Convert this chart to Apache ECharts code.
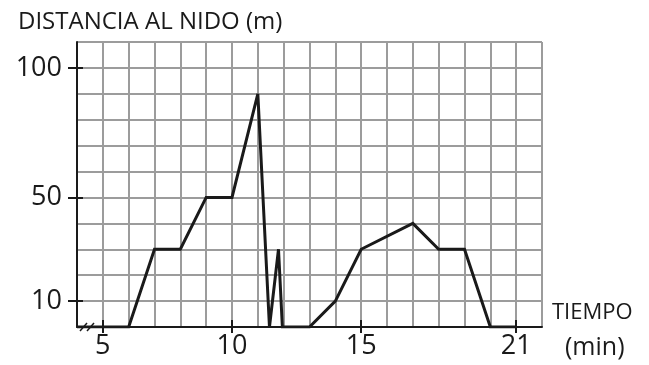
<!DOCTYPE html>
<html>
<head>
<meta charset="utf-8">
<script src="https://cdn.jsdelivr.net/npm/echarts@6/dist/echarts.min.js"></script>
<style>
html,body{margin:0;padding:0;background:#fff;}
#chart{width:649px;height:365px;}
</style>
</head>
<body>
<div id="chart"></div>
<script>
// tiempo (min) y distancia al nido (m)
var tiempo    = [4, 6, 7, 8, 9, 10, 11, 11.45, 11.8, 11.95, 13, 14, 15, 17, 18, 19, 20, 21];
var distancia = [0, 0, 30, 30, 50, 50, 90, 0, 30, 0, 0, 10, 30, 40, 30, 30, 0, 0];
var xTickLabels = [5, 10, 15, 21];
var yTickLabels = [10, 50, 100];

var font = 'Open Sans';
var ink = '#1a1a1a';

var points = tiempo.map(function (t, i) { return [t, distancia[i]]; });

function tickAxis(base, values, inside, len) {
    return Object.assign({
        type: 'value',
        axisLine: {show: false},
        splitLine: {show: false},
        axisLabel: {show: false},
        axisTick: {show: true, inside: inside, length: len, customValues: values,
                   lineStyle: {color: ink, width: 2}}
    }, base);
}

var xBase = {min: 4, max: 22, interval: 1, position: 'bottom'};
var yBase = {min: 0, max: 110, interval: 10, position: 'left'};

var chart = echarts.init(document.getElementById('chart'));
var option = {
    animation: false,
    title: [
        {text: 'DISTANCIA AL NIDO (m)', left: 13, top: 5,
         textStyle: {fontFamily: font, fontSize: 24, fontWeight: 'normal', color: ink}},
        {text: 'TIEMPO', left: 547, top: 297,
         textStyle: {fontFamily: font, fontSize: 22, fontWeight: 'normal', color: ink}},
        {text: '(min)', left: 560, top: 330,
         textStyle: {fontFamily: font, fontSize: 25, fontWeight: 'normal', color: ink}}
    ],
    grid: {left: 77, top: 42, width: 465, height: 285, containLabel: false},
    xAxis: [
        Object.assign({
            type: 'value',
            axisLine: {show: true, lineStyle: {color: ink, width: 2}},
            axisTick: {show: false},
            splitLine: {show: true, lineStyle: {color: '#9c9c9c', width: 2}},
            axisLabel: {
                margin: 6, fontFamily: font, fontSize: 27, color: ink,
                formatter: function (v) { return xTickLabels.indexOf(v) >= 0 ? String(v) : ''; }
            }
        }, xBase),
        tickAxis(xBase, xTickLabels, false, 6),
        tickAxis(xBase, xTickLabels, true, 7)
    ],
    yAxis: [
        Object.assign({
            type: 'value',
            axisLine: {show: true, lineStyle: {color: ink, width: 2}},
            axisTick: {show: false},
            splitLine: {show: true, lineStyle: {color: '#9c9c9c', width: 2}},
            axisLabel: {
                margin: 15, fontFamily: font, fontSize: 27, color: ink,
                formatter: function (v) { return yTickLabels.indexOf(v) >= 0 ? String(v) : ''; }
            }
        }, yBase),
        tickAxis(yBase, yTickLabels, false, 9),
        tickAxis(yBase, yTickLabels, true, 6)
    ],
    series: [{
        type: 'line',
        data: points,
        showSymbol: false,
        symbol: 'none',
        lineStyle: {color: ink, width: 3, join: 'miter', miterLimit: 4},
        z: 5
    }]
};
chart.setOption(option);

// marca de corte del eje x
var p = chart.convertToPixel({xAxisIndex: 0, yAxisIndex: 0}, [4, 0]);
chart.setOption({
    graphic: [
        {type: 'line', shape: {x1: p[0] + 3, y1: p[1] + 4, x2: p[0] + 10, y2: p[1] - 4},
         style: {stroke: ink, lineWidth: 1.5}},
        {type: 'line', shape: {x1: p[0] + 10, y1: p[1] + 4, x2: p[0] + 17, y2: p[1] - 4},
         style: {stroke: ink, lineWidth: 1.5}}
    ]
});
</script>
</body>
</html>
